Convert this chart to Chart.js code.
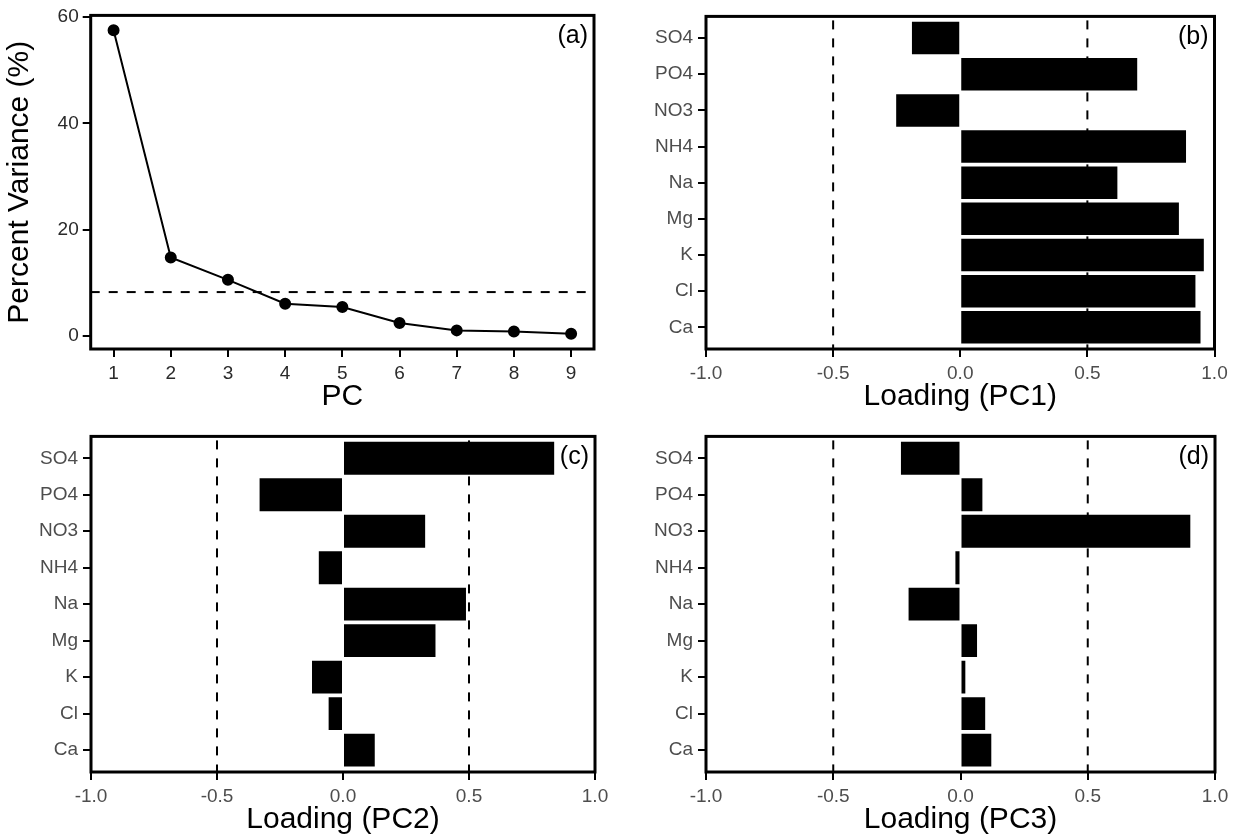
<!DOCTYPE html>
<html>
<head>
<meta charset="utf-8">
<script src="https://cdn.jsdelivr.net/npm/chart.js@4/dist/chart.umd.min.js"></script>
<style>
  body { margin: 0; background: #fff; }
  #wrap { position: relative; width: 1235px; height: 839px; background: #fff; }
  canvas { position: absolute; }
</style>
</head>
<body>
<div id="wrap">
  <canvas id="pA" width="617" height="420" style="left:0px;top:0px"></canvas>
  <canvas id="pB" width="618" height="420" style="left:617px;top:0px"></canvas>
  <canvas id="pC" width="617" height="419" style="left:0px;top:420px"></canvas>
  <canvas id="pD" width="618" height="419" style="left:617px;top:420px"></canvas>
</div>
<script>
// scree plot data
const pcNumbers = [1, 2, 3, 4, 5, 6, 7, 8, 9];
const percentVariance = [57.5, 14.8, 10.6, 6.1, 5.5, 2.5, 1.1, 0.9, 0.45];
const varianceCutoff = 8.3;
const varianceTicks = [0, 20, 40, 60];

// loadings, bottom to top
const ions = ["Ca", "Cl", "K", "Mg", "Na", "NH4", "NO3", "PO4", "SO4"];
const loadingPC1 = [0.945, 0.925, 0.958, 0.86, 0.618, 0.888, -0.252, 0.696, -0.19];
const loadingPC2 = [0.126, -0.057, -0.123, 0.367, 0.488, -0.096, 0.326, -0.331, 0.838];
const loadingPC3 = [0.121, 0.097, 0.019, 0.065, -0.204, -0.02, 0.903, 0.086, -0.234];
const loadingTicks = [-1, -0.5, 0, 0.5, 1];
const loadingGuides = [-0.5, 0.5];

const FONT = "'Liberation Sans', Arial, Helvetica, sans-serif";
const tickFont = { family: FONT, size: 19 };
const titleFont = { family: FONT, size: 30 };
const DASH = [9, 9];

// panel box + letter
const boxPlugin = {
  id: "box",
  afterDraw(chart, args, opts) {
    const { ctx, chartArea: a } = chart;
    ctx.save();
    ctx.strokeStyle = "#000";
    ctx.lineWidth = 3;
    ctx.strokeRect(a.left, a.top, a.right - a.left, a.bottom - a.top);
    ctx.fillStyle = "#000";
    ctx.font = "25px " + FONT;
    ctx.textAlign = "right";
    ctx.textBaseline = "top";
    ctx.fillText(opts.letter, a.right - 6, a.top + 8);
    ctx.restore();
  }
};

// dashed guides at +-0.5
const guidePlugin = {
  id: "guides",
  beforeDatasetsDraw(chart) {
    const { ctx, chartArea: a, scales } = chart;
    ctx.save();
    ctx.strokeStyle = "#000";
    ctx.lineWidth = 2;
    ctx.setLineDash(DASH);
    loadingGuides.forEach(function (v) {
      const px = scales.x.getPixelForValue(v);
      ctx.beginPath();
      ctx.moveTo(px, a.top + 4);
      ctx.lineTo(px, a.bottom);
      ctx.stroke();
    });
    ctx.restore();
  }
};

function tickGrid() {
  return { offset: false, drawOnChartArea: false, drawTicks: true, tickLength: 8, color: "#000", lineWidth: 2 };
}

// (a) scree plot
new Chart(document.getElementById("pA"), {
  type: "line",
  data: {
    datasets: [
      {
        data: pcNumbers.map((pc, i) => ({ x: pc, y: percentVariance[i] })),
        borderColor: "#000",
        backgroundColor: "#000",
        borderWidth: 2,
        pointRadius: 5,
        tension: 0
      },
      {
        data: [{ x: 0.6, y: varianceCutoff }, { x: 9.4, y: varianceCutoff }],
        borderColor: "#000",
        borderWidth: 2,
        borderDash: DASH,
        pointRadius: 0
      }
    ]
  },
  options: {
    responsive: false,
    animation: false,
    devicePixelRatio: 1,
    layout: { padding: { left: 0, right: 23, top: 12.7, bottom: 0 } },
    plugins: { legend: { display: false }, tooltip: { enabled: false }, box: { letter: "(a)" } },
    scales: {
      x: {
        type: "linear", min: 0.6, max: 9.4,
        afterBuildTicks: s => { s.ticks = pcNumbers.map(v => ({ value: v })); },
        afterFit: s => { s.height = 71; },
        ticks: { font: tickFont, color: "#2a2a2a", padding: 5 },
        grid: tickGrid(),
        border: { display: false },
        title: { display: true, text: "PC", font: titleFont, color: "#000", padding: { top: 0, bottom: 5 } }
      },
      y: {
        type: "linear", min: -2.4, max: 60.31,
        afterBuildTicks: s => { s.ticks = varianceTicks.map(v => ({ value: v })); },
        afterFit: s => { s.width = 90.7; },
        ticks: { font: tickFont, color: "#2a2a2a", padding: 4 },
        grid: tickGrid(),
        border: { display: false },
        title: { display: true, text: "Percent Variance (%)", font: titleFont, color: "#000", padding: { top: 2, bottom: 0 } }
      }
    }
  },
  plugins: [boxPlugin]
});

// (b)-(d) loading bars
function loadingChart(id, values, letter, axisTitle, pad, axisH, titlePad) {
  return new Chart(document.getElementById(id), {
    type: "bar",
    data: {
      datasets: [{
        data: ions.map((name, i) => ({ x: values[i], y: i + 1 })),
        backgroundColor: "#000",
        borderWidth: 0,
        barPercentage: 0.9,
        categoryPercentage: 1
      }]
    },
    options: {
      indexAxis: "y",
      responsive: false,
      animation: false,
      devicePixelRatio: 1,
      layout: { padding: pad },
      plugins: { legend: { display: false }, tooltip: { enabled: false }, box: { letter: letter } },
      scales: {
        x: {
          type: "linear", min: -1, max: 1,
          afterBuildTicks: s => { s.ticks = loadingTicks.map(v => ({ value: v })); },
          afterFit: s => { s.height = axisH; },
          ticks: { font: tickFont, color: "#4d4d4d", padding: 5, callback: v => v.toFixed(1) },
          grid: tickGrid(),
          border: { display: false },
          title: { display: true, text: axisTitle, font: titleFont, color: "#000", padding: { top: 0, bottom: titlePad } }
        },
        y: {
          type: "linear", min: 0.4, max: 9.6, offset: false,
          afterBuildTicks: s => { s.ticks = ions.map((n, i) => ({ value: i + 1 })); },
          afterFit: s => { s.width = pad.axisW; },
          ticks: { font: tickFont, color: "#4d4d4d", padding: 5, callback: v => ions[v - 1] },
          grid: tickGrid(),
          border: { display: false }
        }
      }
    },
    plugins: [guidePlugin, boxPlugin]
  });
}

loadingChart("pB", loadingPC1, "(b)", "Loading (PC1)", { left: 0, right: 20.5, top: 12, bottom: 0, axisW: 89 }, 71, 5);
loadingChart("pC", loadingPC2, "(c)", "Loading (PC2)", { left: 0, right: 22, top: 15, bottom: 0, axisW: 91 }, 67, 1);
loadingChart("pD", loadingPC3, "(d)", "Loading (PC3)", { left: 0, right: 20, top: 15, bottom: 0, axisW: 89 }, 67, 1);
</script>
</body>
</html>
